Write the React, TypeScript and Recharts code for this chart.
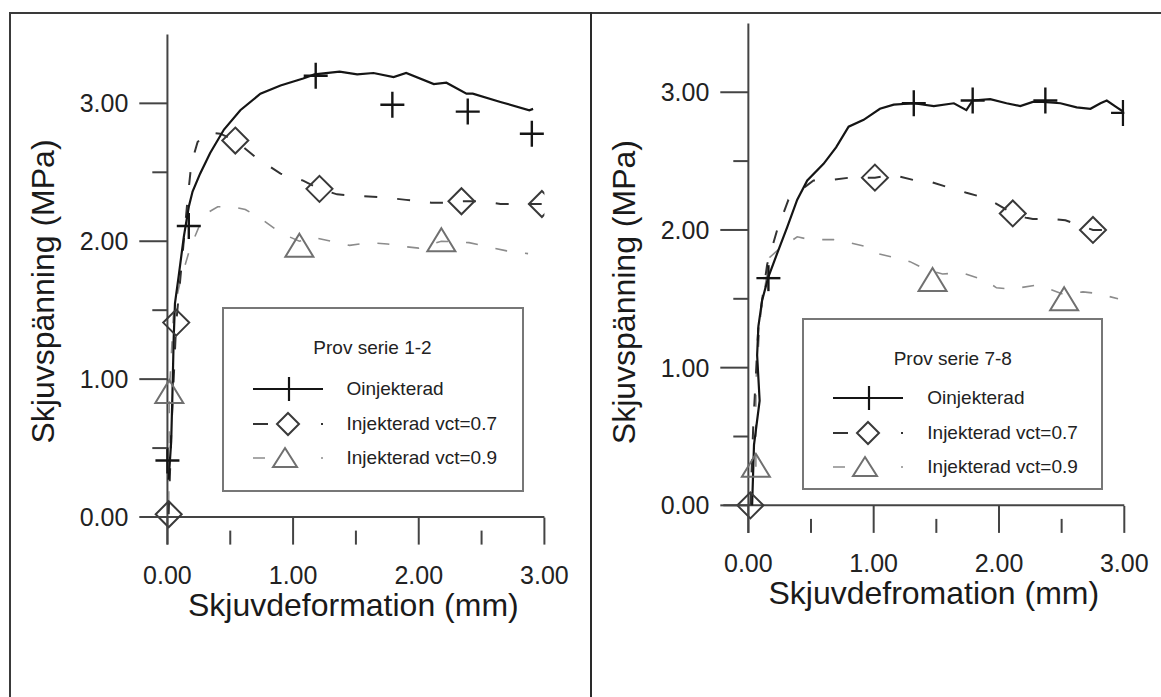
import React from "react";
import {
  ComposedChart,
  Legend,
  Line,
  ReferenceLine,
  Scatter,
  XAxis,
  YAxis,
} from "recharts";

type Pair = [number, number];

const FONT = '"Liberation Sans", Arial, Helvetica, sans-serif';

const xTicks = [0, 0.5, 1, 1.5, 2, 2.5, 3];
const yTicks = [0, 0.5, 1, 1.5, 2, 2.5, 3];
const xDomain: [number, number] = [-0.2, 3];
const yDomain: [number, number] = [-0.2, 3.5];

const seriesNames = ["Oinjekterad", "Injekterad vct=0.7", "Injekterad vct=0.9"];

// Prov serie 1-2
const s12Oinjekterad: Pair[] = [
  [0.01, 0.27], [0.03, 0.55], [0.04, 0.9], [0.05, 1.3], [0.06, 1.55],
  [0.09, 1.75], [0.13, 2.03], [0.17, 2.25], [0.2, 2.36], [0.26, 2.49],
  [0.34, 2.64], [0.45, 2.81], [0.58, 2.95], [0.74, 3.07], [0.9, 3.13],
  [1.08, 3.18], [1.17, 3.21], [1.37, 3.23], [1.51, 3.21], [1.64, 3.22],
  [1.8, 3.19], [1.9, 3.22], [2.12, 3.14], [2.22, 3.15], [2.38, 3.07],
  [2.43, 3.07], [2.65, 3.01], [2.88, 2.95], [2.91, 2.96],
];
const s12OinjekteradMarks: Pair[] = [
  [0.0, 0.41], [0.17, 2.11], [1.18, 3.2], [1.79, 2.99], [2.39, 2.94], [2.9, 2.78],
];
const s12Vct07: Pair[] = [
  [0.01, 0.02], [0.03, 0.6], [0.07, 1.41], [0.12, 1.9], [0.16, 2.3],
  [0.19, 2.56], [0.24, 2.72], [0.32, 2.79], [0.42, 2.78], [0.54, 2.73],
  [0.7, 2.61], [0.9, 2.49], [1.08, 2.44], [1.21, 2.38], [1.35, 2.34],
  [1.5, 2.33], [1.7, 2.32], [1.9, 2.3], [2.1, 2.28], [2.2, 2.28],
  [2.34, 2.29], [2.5, 2.29], [2.65, 2.27], [2.8, 2.27], [2.98, 2.27],
];
const s12Vct07Marks: Pair[] = [
  [0.01, 0.02], [0.07, 1.41], [0.54, 2.73], [1.21, 2.38], [2.34, 2.29], [2.98, 2.27],
];
const s12Vct09: Pair[] = [
  [0.01, 0.1], [0.015, 0.9], [0.05, 1.5], [0.1, 1.7], [0.18, 1.95],
  [0.29, 2.19], [0.4, 2.25], [0.52, 2.25], [0.62, 2.23], [0.75, 2.16],
  [0.9, 2.06], [1.05, 2.0], [1.15, 2.03], [1.3, 2.0], [1.45, 1.97],
  [1.6, 1.99], [1.75, 1.98], [1.9, 1.96], [2.0, 1.95], [2.18, 2.0],
  [2.4, 1.99], [2.55, 1.96], [2.7, 1.93], [2.87, 1.91],
];
const s12Vct09Marks: Pair[] = [[0.015, 0.9], [1.05, 1.96], [2.18, 2.0]];

// Prov serie 7-8
const s78Oinjekterad: Pair[] = [
  [0.03, 0.0], [0.045, 0.44], [0.09, 0.76], [0.07, 1.09], [0.08, 1.3],
  [0.11, 1.49], [0.16, 1.66], [0.23, 1.83], [0.31, 2.02], [0.39, 2.22],
  [0.47, 2.36], [0.6, 2.48], [0.7, 2.6], [0.8, 2.75], [0.92, 2.8],
  [1.05, 2.88], [1.16, 2.91], [1.32, 2.92], [1.48, 2.9], [1.64, 2.92],
  [1.74, 2.87], [1.79, 2.94], [1.93, 2.95], [2.06, 2.92], [2.17, 2.9],
  [2.27, 2.93], [2.35, 2.93], [2.49, 2.92], [2.62, 2.89], [2.73, 2.88],
  [2.81, 2.92], [2.86, 2.94], [2.94, 2.89], [2.99, 2.86],
];
const s78OinjekteradMarks: Pair[] = [
  [0.16, 1.65], [1.32, 2.92], [1.79, 2.94], [2.37, 2.94], [2.99, 2.85],
];
const s78Vct07: Pair[] = [
  [0.016, 0.0], [0.04, 0.6], [0.08, 1.3], [0.15, 1.75], [0.23, 2.0],
  [0.32, 2.22], [0.39, 2.27], [0.52, 2.36], [0.63, 2.36], [0.81, 2.38],
  [1.01, 2.38], [1.15, 2.4], [1.33, 2.36], [1.45, 2.35], [1.63, 2.3],
  [1.74, 2.27], [1.9, 2.23], [1.98, 2.19], [2.11, 2.12], [2.21, 2.09],
  [2.27, 2.08], [2.43, 2.08], [2.53, 2.07], [2.75, 2.0], [2.95, 2.0],
];
const s78Vct07Marks: Pair[] = [[0.016, 0.0], [1.01, 2.38], [2.11, 2.12], [2.75, 2.0]];
const s78Vct09: Pair[] = [
  [0.06, 0.28], [0.06, 0.9], [0.1, 1.4], [0.17, 1.8], [0.23, 1.85],
  [0.39, 1.95], [0.49, 1.93], [0.68, 1.93], [0.79, 1.91], [0.94, 1.88],
  [1.02, 1.83], [1.21, 1.79], [1.29, 1.77], [1.4, 1.72], [1.55, 1.68],
  [1.7, 1.69], [1.9, 1.63], [1.98, 1.58], [2.1, 1.57], [2.3, 1.6],
  [2.38, 1.58], [2.52, 1.53], [2.67, 1.55], [2.78, 1.54], [2.95, 1.5],
];
const s78Vct09Marks: Pair[] = [[0.06, 0.28], [1.47, 1.63], [2.52, 1.49]];

const toPoints = (pairs: Pair[]) => pairs.map(([x, y]) => ({ x, y }));

const INK = "#151515";
const DASH_INK = "#333";
const GREY = "#8c8c8c";

const PlusMark = ({ cx, cy }: any) => (
  <g stroke={INK} strokeWidth={2.4}>
    <line x1={cx - 12} x2={cx + 12} y1={cy} y2={cy} />
    <line x1={cx} x2={cx} y1={cy - 13} y2={cy + 13} />
  </g>
);

const DiamondMark = ({ cx, cy }: any) => (
  <polygon
    points={`${cx},${cy - 13} ${cx + 13},${cy} ${cx},${cy + 13} ${cx - 13},${cy}`}
    fill="none"
    stroke="#3a3a3a"
    strokeWidth={2}
  />
);

const TriangleMark = ({ cx, cy }: any) => (
  <polygon
    points={`${cx},${cy - 13} ${cx + 14},${cy + 10} ${cx - 14},${cy + 10}`}
    fill="none"
    stroke="#707070"
    strokeWidth={2}
  />
);

const XTick = ({ x, y, payload }: any) => {
  const v = payload.value as number;
  const major = Number.isInteger(v);
  return (
    <g>
      <line x1={x} x2={x} y1={y} y2={y - (major ? 27 : 14)} stroke="#444" strokeWidth={2} />
      {major && (
        <text x={x} y={y + 39} textAnchor="middle" fontSize={25} fill="#222" fontFamily={FONT}>
          {v.toFixed(2)}
        </text>
      )}
    </g>
  );
};

const YTick = ({ x, y, payload }: any) => {
  const v = payload.value as number;
  const major = Number.isInteger(v);
  return (
    <g>
      <line x1={x + (major ? -3 : 10)} x2={x + 25} y1={y} y2={y} stroke="#444" strokeWidth={2} />
      {major && (
        <text x={x - 14} y={y + 9} textAnchor="end" fontSize={25} fill="#222" fontFamily={FONT}>
          {v.toFixed(2)}
        </text>
      )}
    </g>
  );
};

const XTitle = ({ viewBox, value }: any) => (
  <text
    x={viewBox.x + viewBox.width / 2 + 10}
    y={viewBox.y + 71}
    textAnchor="middle"
    fontSize={32}
    fill="#1a1a1a"
    fontFamily={FONT}
  >
    {value}
  </text>
);

const YTitle = ({ viewBox, value, shift }: any) => {
  const x = viewBox.x - 28;
  const y = viewBox.y + viewBox.height / 2 + shift;
  return (
    <text
      x={x}
      y={y}
      transform={`rotate(-90, ${x}, ${y})`}
      textAnchor="middle"
      fontSize={32}
      fill="#1a1a1a"
      fontFamily={FONT}
    >
      {value}
    </text>
  );
};

const LegendSymbol = ({ kind }: { kind: number }) => {
  if (kind === 0) {
    return (
      <svg width={72} height={30}>
        <line x1={0} x2={70} y1={15} y2={15} stroke={INK} strokeWidth={2.2} />
        <line x1={36} x2={36} y1={3} y2={27} stroke={INK} strokeWidth={2.2} />
      </svg>
    );
  }
  if (kind === 1) {
    return (
      <svg width={72} height={30}>
        <line x1={0} x2={70} y1={15} y2={15} stroke={DASH_INK} strokeWidth={2} strokeDasharray="15 53 2 10" />
        <polygon points="35,4 46,15 35,26 24,15" fill="none" stroke="#3a3a3a" strokeWidth={2} />
      </svg>
    );
  }
  return (
    <svg width={72} height={30}>
      <line x1={0} x2={70} y1={15} y2={15} stroke={GREY} strokeWidth={1.6} strokeDasharray="12 56 2 10" />
      <polygon points="32,5 44,24 20,24" fill="none" stroke="#707070" strokeWidth={2} />
    </svg>
  );
};

const LegendBox = ({ serie, rowTop }: { serie: string; rowTop: number }) => (
  <div
    style={{
      position: "relative",
      width: "100%",
      height: "100%",
      boxSizing: "border-box",
      border: "2px solid #777",
      background: "#fff",
      fontFamily: FONT,
      color: "#222",
    }}
  >
    <div style={{ position: "absolute", top: 28, width: "100%", textAlign: "center", fontSize: 19 }}>
      {serie}
    </div>
    {seriesNames.map((name, i) => (
      <div
        key={name}
        style={{ position: "absolute", left: 29, top: rowTop + i * 34.5 - 15, height: 30, display: "flex", alignItems: "center" }}
      >
        <LegendSymbol kind={i} />
        <span style={{ marginLeft: 22, fontSize: 19 }}>{name}</span>
      </div>
    ))}
  </div>
);

interface PanelProps {
  serie: string;
  xTitle: string;
  width: number;
  height: number;
  margin: { top: number; right: number; bottom: number; left: number };
  legendBox: { left: number; top: number; width: number; height: number };
  rowTop: number;
  yTitleShift: number;
  solid: Pair[];
  solidMarks: Pair[];
  vct07: Pair[];
  vct07Marks: Pair[];
  vct09: Pair[];
  vct09Marks: Pair[];
}

const Panel = (p: PanelProps) => (
  <ComposedChart width={p.width} height={p.height} margin={p.margin}>
    <XAxis
      dataKey="x"
      type="number"
      domain={xDomain}
      ticks={xTicks}
      allowDataOverflow
      axisLine={false}
      tickLine={false}
      tickSize={0}
      tickMargin={0}
      height={100}
      tick={<XTick />}
      label={{ value: p.xTitle, content: <XTitle value={p.xTitle} /> }}
    />
    <YAxis
      dataKey="y"
      type="number"
      domain={yDomain}
      ticks={yTicks}
      allowDataOverflow
      axisLine={false}
      tickLine={false}
      tickSize={0}
      tickMargin={0}
      width={60}
      tick={<YTick />}
      label={{
        value: "Skjuvspänning (MPa)",
        content: <YTitle value="Skjuvspänning (MPa)" shift={p.yTitleShift} />,
      }}
    />
    <ReferenceLine y={0} stroke="#444" strokeWidth={2} />
    <ReferenceLine x={0} stroke="#444" strokeWidth={2} />
    <Line
      data={toPoints(p.vct09)}
      dataKey="y"
      type="linear"
      stroke={GREY}
      strokeWidth={1.6}
      strokeDasharray="12 18"
      dot={false}
      isAnimationActive={false}
    />
    <Line
      data={toPoints(p.vct07)}
      dataKey="y"
      type="linear"
      stroke={DASH_INK}
      strokeWidth={2}
      strokeDasharray="13 20"
      dot={false}
      isAnimationActive={false}
    />
    <Line
      data={toPoints(p.solid)}
      dataKey="y"
      type="linear"
      stroke={INK}
      strokeWidth={2.2}
      dot={false}
      isAnimationActive={false}
    />
    <Scatter data={toPoints(p.vct09Marks)} dataKey="y" shape={<TriangleMark />} isAnimationActive={false} />
    <Scatter data={toPoints(p.vct07Marks)} dataKey="y" shape={<DiamondMark />} isAnimationActive={false} />
    <Scatter data={toPoints(p.solidMarks)} dataKey="y" shape={<PlusMark />} isAnimationActive={false} />
    <Legend
      layout="vertical"
      align="center"
      verticalAlign="middle"
      width={p.legendBox.width}
      height={p.legendBox.height}
      wrapperStyle={{ left: p.legendBox.left, top: p.legendBox.top, width: p.legendBox.width, height: p.legendBox.height }}
      content={() => <LegendBox serie={p.serie} rowTop={p.rowTop} />}
    />
  </ComposedChart>
);

export default function App() {
  return (
    <div style={{ position: "absolute", left: 0, top: 0, width: 1161, height: 697, background: "#fff", overflow: "hidden" }}>
      <div
        style={{
          position: "absolute",
          left: 9,
          top: 12,
          width: 1160,
          height: 700,
          borderTop: "2px solid #3a3a3a",
          borderLeft: "2px solid #3a3a3a",
        }}
      />
      <div style={{ position: "absolute", left: 590, top: 12, width: 2, height: 700, background: "#2a2a2a" }} />
      <div style={{ position: "absolute", left: 0, top: 0 }}>
        <Panel
          serie="Prov serie 1-2"
          xTitle="Skjuvdeformation (mm)"
          width={591}
          height={697}
          margin={{ top: 34.4, right: 46.6, bottom: 52.4, left: 82.3 }}
          legendBox={{ left: 221.5, top: 307, width: 302, height: 185 }}
          rowTop={80}
          yTitleShift={2}
          solid={s12Oinjekterad}
          solidMarks={s12OinjekteradMarks}
          vct07={s12Vct07}
          vct07Marks={s12Vct07Marks}
          vct09={s12Vct09}
          vct09Marks={s12Vct09Marks}
        />
      </div>
      <div style={{ position: "absolute", left: 591, top: 0 }}>
        <Panel
          serie="Prov serie 7-8"
          xTitle="Skjuvdefromation (mm)"
          width={570}
          height={697}
          margin={{ top: 23.4, right: 36.7, bottom: 64.1, left: 72.3 }}
          legendBox={{ left: 211.3, top: 318.3, width: 301, height: 172 }}
          rowTop={78}
          yTitleShift={14}
          solid={s78Oinjekterad}
          solidMarks={s78OinjekteradMarks}
          vct07={s78Vct07}
          vct07Marks={s78Vct07Marks}
          vct09={s78Vct09}
          vct09Marks={s78Vct09Marks}
        />
      </div>
    </div>
  );
}
